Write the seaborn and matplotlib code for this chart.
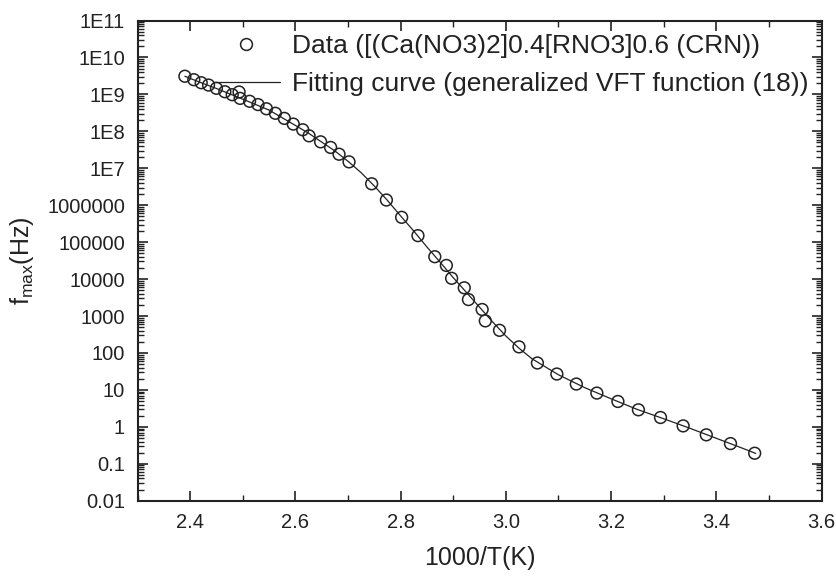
import numpy as np
import pandas as pd
import matplotlib
matplotlib.use("Agg")
import matplotlib.pyplot as plt
from matplotlib.lines import Line2D
import matplotlib.ticker as mticker
import seaborn as sns

# ---- data ----
data_x = [2.390, 2.407, 2.421, 2.435, 2.450, 2.466, 2.480, 2.493, 2.495, 2.513,
          2.529, 2.545, 2.562, 2.579, 2.596, 2.614, 2.626, 2.648, 2.667, 2.683,
          2.702, 2.745, 2.773, 2.802, 2.833, 2.865, 2.887, 2.897, 2.921, 2.929,
          2.955, 2.961, 2.988, 3.025, 3.060, 3.097, 3.134, 3.173, 3.213, 3.252,
          3.294, 3.337, 3.381, 3.427, 3.473]
data_f = [3.1e9, 2.5e9, 2.07e9, 1.79e9, 1.46e9, 1.18e9, 9.8e8, 1.16e9, 7.8e8, 6.5e8,
          5.3e8, 4.08e8, 3.08e8, 2.24e8, 1.57e8, 1.1e8, 7.55e7, 5.19e7, 3.66e7, 2.4e7,
          1.49e7, 3.8e6, 1.38e6, 4.7e5, 1.5e5, 4.03e4, 2.34e4, 1.05e4, 5.8e3, 2.79e3,
          1.5e3, 738, 410, 146, 53.5, 26.9, 14.4, 8.2, 4.86, 2.89,
          1.79, 1.06, 0.607, 0.352, 0.193]

fit_x = [2.390, 2.420, 2.450, 2.500, 2.550, 2.600, 2.625, 2.650, 2.675, 2.700,
         2.725, 2.750, 2.775, 2.800, 2.825, 2.850, 2.875, 2.900, 2.925, 2.950,
         2.975, 3.000, 3.025, 3.050, 3.100, 3.150, 3.200, 3.250, 3.300, 3.350,
         3.400, 3.450, 3.475]
fit_log10f = [9.49, 9.32, 9.16, 8.87, 8.575, 8.16, 7.95, 7.71, 7.47, 7.19,
              6.88, 6.52, 6.13, 5.71, 5.30, 4.87, 4.46, 4.04, 3.64, 3.24,
              2.84, 2.46, 2.13, 1.84, 1.41, 1.06, 0.76, 0.47, 0.22, -0.04,
              -0.31, -0.58, -0.72]

ytick_values = [1e-2, 1e-1, 1, 10, 100, 1e3, 1e4, 1e5, 1e6, 1e7, 1e8, 1e9, 1e10, 1e11]
ytick_labels = ["0.01", "0.1", "1", "10", "100", "1000", "10000", "100000",
                "1000000", "1E7", "1E8", "1E9", "1E10", "1E11"]
xtick_values = [2.4, 2.6, 2.8, 3.0, 3.2, 3.4, 3.6]
xtick_labels = ["2.4", "2.6", "2.8", "3.0", "3.2", "3.4", "3.6"]

label_data = "Data ([(Ca(NO3)2]0.4[RNO3]0.6 (CRN))"
label_fit = "Fitting curve (generalized VFT function (18))"
xlabel = "1000/T(K)"
ylabel = r"f$_{\mathregular{max}}$(Hz)"

df_data = pd.DataFrame({"x": data_x, "f": data_f})
df_fit = pd.DataFrame({"x": fit_x, "f": [10 ** v for v in fit_log10f]})

# ---- style ----
sns.set_style("ticks")
plt.rcParams["font.family"] = ["Liberation Sans", "DejaVu Sans"]
plt.rcParams["mathtext.fontset"] = "custom"
plt.rcParams["mathtext.rm"] = "Liberation Sans"

ink = "#222222"

fig = plt.figure(figsize=(8.37, 5.76), dpi=100)
ax = fig.add_axes([0.1643, 0.1307, 0.8172, 0.8337])

sns.lineplot(data=df_fit, x="x", y="f", ax=ax, color=ink, linewidth=0.9,
             sort=False, estimator=None, legend=False)
sns.scatterplot(data=df_data, x="x", y="f", ax=ax, marker="o", s=72,
                facecolors="none", edgecolors=ink, linewidths=1.1, legend=False)

ax.set_yscale("log")
ax.set_xlim(2.3, 3.6)
ax.set_ylim(1e-2, 1e11)

ax.set_xticks(xtick_values)
ax.set_xticklabels(xtick_labels)
ax.xaxis.set_minor_locator(mticker.MultipleLocator(0.1))
ax.set_yticks(ytick_values)
ax.set_yticklabels(ytick_labels)
ax.yaxis.set_minor_locator(mticker.LogLocator(base=10, subs=np.arange(2, 10), numticks=100))
ax.yaxis.set_minor_formatter(mticker.NullFormatter())

ax.tick_params(which="both", direction="in", top=True, right=True, color=ink)
ax.tick_params(which="major", length=7.5, width=1.2, labelsize=14.5, labelcolor=ink, pad=9)
ax.tick_params(which="minor", length=4, width=1.0)
for sp in ax.spines.values():
    sp.set_linewidth(1.5)
    sp.set_color(ink)

ax.set_xlabel(xlabel, fontsize=18, color=ink, labelpad=10)
ax.set_ylabel(ylabel, fontsize=18, color=ink, labelpad=8)

handles = [
    Line2D([], [], linestyle="none", marker="o", markersize=8.5, markerfacecolor="none",
           markeredgecolor=ink, markeredgewidth=1.1),
    Line2D([], [], color=ink, linewidth=0.9),
]
ax.legend(handles, [label_data, label_fit], loc="upper left",
          bbox_to_anchor=(0.110, 0.972), frameon=False, fontsize=19,
          handlelength=2.55, handletextpad=0.45, labelspacing=0.55,
          borderpad=0, borderaxespad=0, labelcolor=ink)

fig.savefig("out.png", dpi=100)
